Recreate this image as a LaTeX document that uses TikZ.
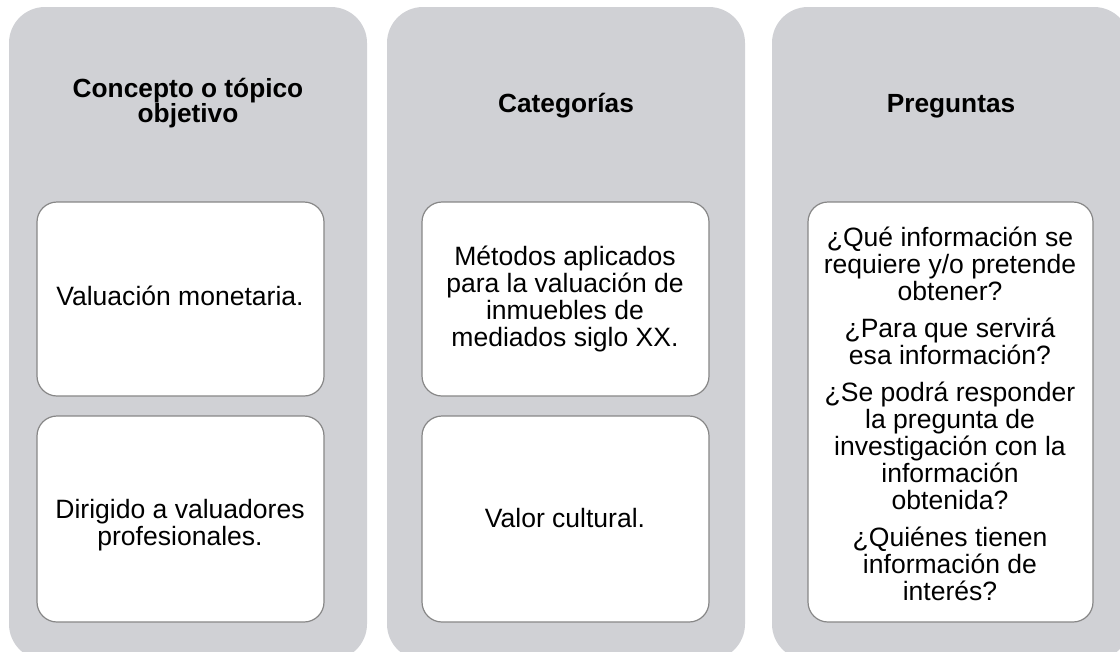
\documentclass[tikz,border=0pt]{standalone}
\usepackage{fontspec}
\setmainfont{Liberation Sans}
\definecolor{colgray}{RGB}{208,209,213}
\definecolor{boxline}{RGB}{135,135,135}
\begin{document}
\begin{tikzpicture}[x=0.75pt,y=-0.75pt,
  column/.style={fill=colgray, rounded corners=27pt},
  card/.style={fill=white, draw=boxline, line width=0.9pt, rounded corners=15pt},
  title/.style={font=\fontsize{19.7}{18.75}\selectfont\bfseries, align=center, inner sep=0pt, anchor=base},
  body/.style={font=\fontsize{19.9}{20.25}\selectfont, align=center, inner sep=0pt, anchor=base}]
\useasboundingbox (0,0) rectangle (1120,651);
\clip (0,0) rectangle (1120,651);
% columns
\path[column] (9,7) rectangle (367,660);
\path[column] (387,7) rectangle (745,660);
\path[column] (772,7) rectangle (1130,660);
% cards
\path[card] (37,202) rectangle (324,396);
\path[card] (37,416) rectangle (324,622);
\path[card] (422,202) rectangle (709,396);
\path[card] (422,416) rectangle (709,622);
\path[card] (808,202) rectangle (1093,622);
% titles (base anchor = last line baseline)
\node[title] (t1) at (188,122) {Concepto o tópico\\objetivo};
\node[title] (t2) at (566,112) {Categorías};
\node[title] (t3) at (951,112) {Preguntas};
% bodies
\node[body] (b11) at (180,305) {Valuación monetaria.};
\node[body] (b12) at (180,545) {Dirigido a valuadores\\profesionales.};
\node[body] (b21) at (565,346) {Métodos aplicados\\para la valuación de\\inmuebles de\\mediados siglo XX.};
\node[body] (b22) at (565,527) {Valor cultural.};
\node[body] (b3) at (950,600) {¿Qué información se\\requiere y/o pretende\\obtener?\\[7.5pt]¿Para que servirá\\esa información?\\[7.5pt]¿Se podrá responder\\la pregunta de\\investigación con la\\información\\obtenida?\\[7.5pt]¿Quiénes tienen\\información de\\interés?};
\end{tikzpicture}
\end{document}
